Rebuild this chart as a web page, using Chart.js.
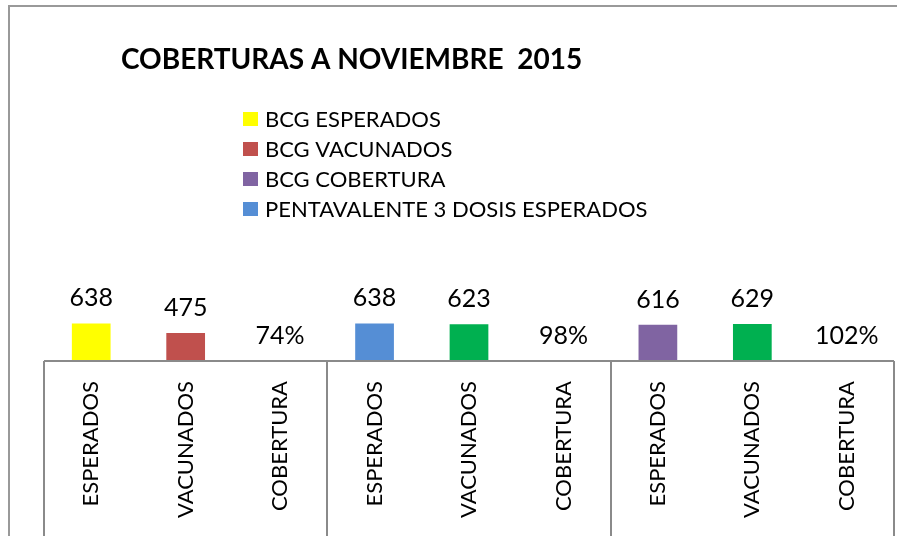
<!DOCTYPE html>
<html>
<head>
<meta charset="utf-8">
<script src="https://cdn.jsdelivr.net/npm/chart.js@4.4.1/dist/chart.umd.min.js"></script>
<style>
  html, body { margin: 0; padding: 0; background: #ffffff; }
  canvas { display: block; }
</style>
</head>
<body>
<canvas id="c" width="897" height="536"></canvas>
<script>
// ---- data ----
const chartTitle = 'COBERTURAS A NOVIEMBRE  2015';
const categories = ['ESPERADOS', 'VACUNADOS', 'COBERTURA', 'ESPERADOS', 'VACUNADOS', 'COBERTURA', 'ESPERADOS', 'VACUNADOS', 'COBERTURA'];
const values = [638, 475, 0.74, 638, 623, 0.98, 616, 629, 1.02];
const isPercent = [false, false, true, false, false, true, false, false, true];
const barColors = ['#FFFF00', '#C0504D', '#8064A2', '#558ED5', '#00B050', '#8064A2', '#8064A2', '#00B050', '#8064A2'];
const legendLabels = ['BCG ESPERADOS', 'BCG VACUNADOS', 'BCG COBERTURA', 'PENTAVALENTE 3 DOSIS ESPERADOS'];
const legendColors = ['#FFFF00', '#C0504D', '#8064A2', '#558ED5'];
const groupBoundaries = [-0.5, 2.5, 5.5, 8.5];

const FONT = 'Lato, Carlito, "Open Sans", sans-serif';
const LINE = '#8a8a8a';

const decorPlugin = {
  id: 'decor',
  afterDraw(chart) {
    const ctx = chart.ctx;
    const ca = chart.chartArea;
    const xs = chart.scales.x;
    ctx.save();
    // outer frame
    ctx.strokeStyle = '#999999';
    ctx.lineWidth = 2;
    ctx.beginPath();
    ctx.moveTo(9, chart.height + 5);
    ctx.lineTo(9, 6);
    ctx.lineTo(chart.width + 5, 6);
    ctx.stroke();
    // axis box
    ctx.strokeStyle = LINE;
    ctx.lineWidth = 2;
    ctx.beginPath();
    const xl = xs.getPixelForValue(groupBoundaries[0]);
    const xr = xs.getPixelForValue(groupBoundaries[groupBoundaries.length - 1]);
    ctx.moveTo(xl, ca.bottom);
    ctx.lineTo(xr, ca.bottom);
    groupBoundaries.forEach(b => {
      const x = Math.round(xs.getPixelForValue(b));
      ctx.moveTo(x, ca.bottom);
      ctx.lineTo(x, chart.height + 5);
    });
    ctx.stroke();
    // title
    ctx.fillStyle = '#000000';
    ctx.font = 'bold 28px ' + FONT;
    ctx.textBaseline = 'middle';
    ctx.textAlign = 'left';
    ctx.fillText(chartTitle, 121, 60);
    // legend
    ctx.font = '22px ' + FONT;
    legendLabels.forEach((lab, i) => {
      const y = 119 + i * 30;
      ctx.fillStyle = legendColors[i];
      ctx.fillRect(243, y - 7, 15, 14);
      ctx.fillStyle = '#000000';
      ctx.fillText(lab, 265, y + 1);
    });
    // value labels
    const meta = chart.getDatasetMeta(0);
    ctx.font = '25px ' + FONT;
    ctx.textAlign = 'center';
    meta.data.forEach((bar, i) => {
      const v = values[i];
      const txt = isPercent[i] ? Math.round(v * 100) + '%' : String(v);
      ctx.fillText(txt, bar.x, bar.y - 25);
    });
    ctx.restore();
  }
};

new Chart(document.getElementById('c'), {
  type: 'bar',
  data: {
    labels: categories,
    datasets: [{
      data: values,
      backgroundColor: barColors,
      borderWidth: 0,
      categoryPercentage: 1.0,
      barPercentage: 0.41
    }]
  },
  options: {
    responsive: false,
    animation: false,
    devicePixelRatio: 1,
    layout: { padding: { left: 44, right: 3, top: 249, bottom: 0 } },
    plugins: {
      legend: { display: false },
      title: { display: false },
      tooltip: { enabled: false }
    },
    scales: {
      x: {
        grid: { display: false, drawTicks: false },
        border: { display: false },
        ticks: {
          color: '#000000',
          font: { family: FONT, size: 22 },
          maxRotation: 90,
          minRotation: 90,
          padding: 20,
          autoSkip: false
        },
        afterFit(scale) { scale.height = 175; }
      },
      y: {
        display: false,
        min: 0,
        max: 1900
      }
    }
  },
  plugins: [decorPlugin]
});
</script>
</body>
</html>
